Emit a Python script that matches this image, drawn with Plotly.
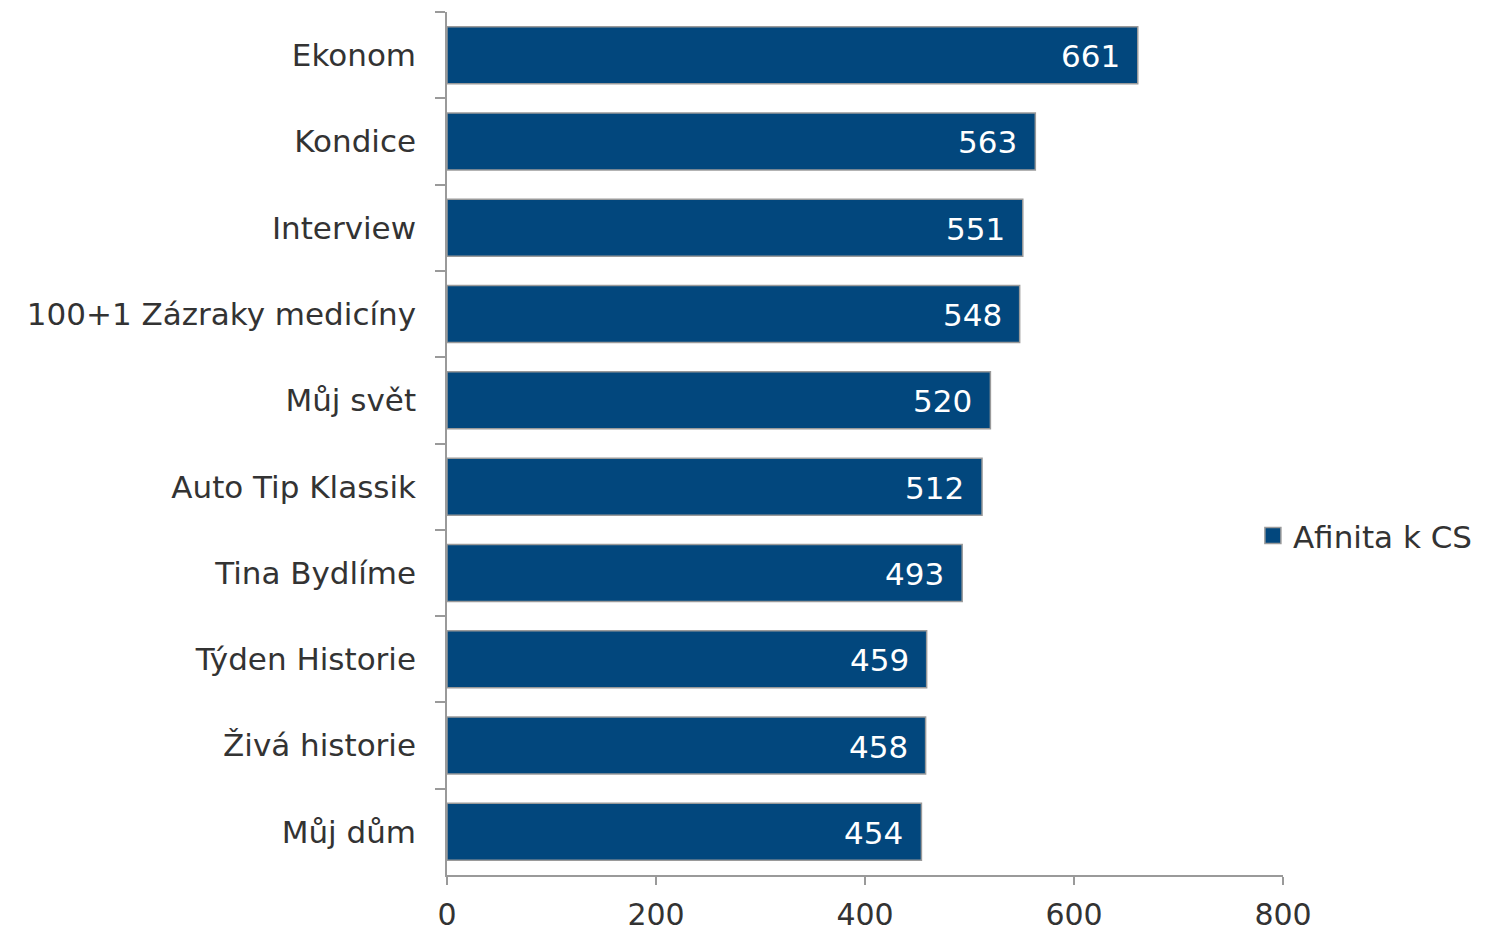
import plotly.graph_objects as go

categories = ["Ekonom", "Kondice", "Interview", "100+1 Zázraky medicíny", "Můj svět",
              "Auto Tip Klassik", "Tina Bydlíme", "Týden Historie", "Živá historie", "Můj dům"]
values = [661, 563, 551, 548, 520, 512, 493, 459, 458, 454]
series_name = "Afinita k CS"
x_ticks = [0, 200, 400, 600, 800]

FONT = "DejaVu Sans, Verdana, sans-serif"
FS = 31
TXT = "#333333"
AX = "#9a9a9a"
BAR = "#02477D"

fig = go.Figure()
fig.add_trace(go.Bar(
    y=categories, x=values, orientation="h", name=series_name,
    marker=dict(color=BAR, line=dict(color=AX, width=1.5)),
    showlegend=False,
))
# legend entry with a larger square swatch
fig.add_trace(go.Scatter(
    x=[None], y=[None], mode="markers", name=series_name,
    marker=dict(symbol="square", size=16, color=BAR, line=dict(color=AX, width=1.5)),
    showlegend=True,
))

for c, v in zip(categories, values):
    fig.add_annotation(x=v, y=c, text=str(v), showarrow=False,
                       xanchor="right", yanchor="middle", xshift=-16, yshift=-1,
                       font=dict(color="white", size=FS, family=FONT))

fig.update_layout(
    width=1478, height=923,
    margin=dict(l=439, r=203, t=4, b=56),
    paper_bgcolor="white", plot_bgcolor="white",
    font=dict(family=FONT, size=FS, color=TXT),
    bargap=0.34,
    showlegend=True,
    legend=dict(x=0.964, y=0.393, xanchor="left", yanchor="middle",
                font=dict(size=FS, color=TXT, family=FONT),
                bgcolor="rgba(0,0,0,0)", itemwidth=30),
)
fig.update_yaxes(
    categoryorder="array", categoryarray=categories, autorange="reversed",
    showline=True, linecolor=AX, linewidth=1.5,
    ticks="outside", ticklen=10, tickcolor=AX, tickwidth=1.5,
    tickson="boundaries", showgrid=False, zeroline=False,
    tickfont=dict(size=FS, color=TXT), ticklabelstandoff=23, automargin=False,
)
fig.update_xaxes(
    range=[0, 800], tickvals=x_ticks,
    showline=True, linecolor=AX, linewidth=1.5,
    ticks="outside", ticklen=8, tickcolor=AX, tickwidth=1.5,
    showgrid=False, zeroline=False,
    tickfont=dict(size=30, color=TXT), ticklabelstandoff=4, automargin=False,
)

fig.write_html("out.html")
